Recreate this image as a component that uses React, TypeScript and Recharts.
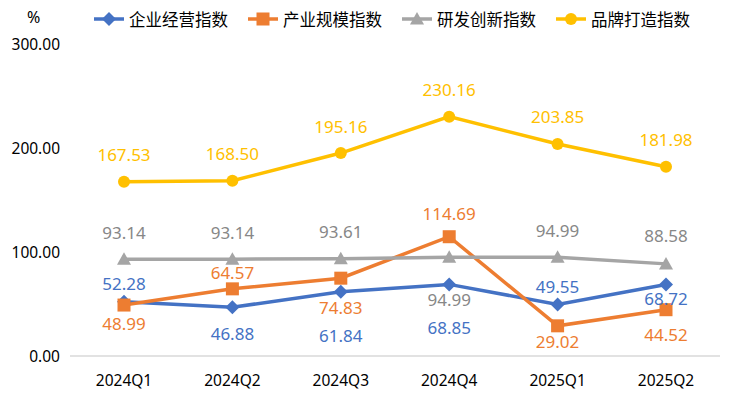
import React from 'react'
import { LineChart, Line, XAxis, YAxis, LabelList } from 'recharts'

const quarters = ['2024Q1', '2024Q2', '2024Q3', '2024Q4', '2025Q1', '2025Q2']
const operation = [52.28, 46.88, 61.84, 68.85, 49.55, 68.72]
const scale = [48.99, 64.57, 74.83, 114.69, 29.02, 44.52]
const innovation = [93.14, 93.14, 93.61, 94.99, 94.99, 88.58]
const brand = [167.53, 168.5, 195.16, 230.16, 203.85, 181.98]
const yTicks = [0, 100, 200, 300]

const seriesNames = ['企业经营指数', '产业规模指数', '研发创新指数', '品牌打造指数']

const data = quarters.map((q, i) => ({
  q,
  operation: operation[i],
  scale: scale[i],
  innovation: innovation[i],
  brand: brand[i],
}))

// label offsets (px from point centre)
const labelDy: Record<string, number[]> = {
  operation: [-18, 26, 44, 43, -18, 14],
  scale: [18, -16, 29, -23, 16, 25],
  innovation: [-27, -27, -27, 42, -27, -28],
  brand: [-27, -27, -27, -27, -27, -27],
}

const FONT = '"Noto Sans", "Noto Sans CJK SC", sans-serif'

type Kind = 'diamond' | 'square' | 'triangle' | 'circle'

function Marker({ cx, cy, kind, color }: { cx: number; cy: number; kind: Kind; color: string }) {
  if (kind === 'diamond') {
    const r = 7
    return <polygon points={`${cx},${cy - r} ${cx + r},${cy} ${cx},${cy + r} ${cx - r},${cy}`} fill={color} />
  }
  if (kind === 'square') {
    const r = 6.5
    return <rect x={cx - r} y={cy - r} width={r * 2} height={r * 2} fill={color} />
  }
  if (kind === 'triangle') {
    const r = 7
    return <polygon points={`${cx},${cy - r} ${cx + r},${cy + r * 0.8} ${cx - r},${cy + r * 0.8}`} fill={color} />
  }
  return <circle cx={cx} cy={cy} r={6} fill={color} />
}

const series: { key: string; name: string; color: string; labelColor: string; kind: Kind }[] = [
  { key: 'operation', name: seriesNames[0], color: '#4472C4', labelColor: '#4472C4', kind: 'diamond' },
  { key: 'scale', name: seriesNames[1], color: '#ED7D31', labelColor: '#ED7D31', kind: 'square' },
  { key: 'innovation', name: seriesNames[2], color: '#A5A5A5', labelColor: '#878787', kind: 'triangle' },
  { key: 'brand', name: seriesNames[3], color: '#FFC000', labelColor: '#FFC000', kind: 'circle' },
]

function makeLabel(key: string, color: string) {
  return (props: any) => {
    const { x, y, value, index } = props
    return (
      <text
        x={x}
        y={y + labelDy[key][index]}
        fill={color}
        fontSize={17}
        fontFamily={FONT}
        textAnchor="middle"
        dominantBaseline="central"
      >
        {Number(value).toFixed(2)}
      </text>
    )
  }
}

function LegendRow() {
  return (
    <div
      style={{
        position: 'absolute',
        left: 93,
        top: 7,
        display: 'flex',
        alignItems: 'center',
        fontFamily: FONT,
        fontSize: 16.5,
        color: '#000',
        whiteSpace: 'nowrap',
      }}
    >
      {series.map((s) => (
        <div key={s.key} style={{ display: 'flex', alignItems: 'center', marginRight: 19 }}>
          <svg width={32} height={16} style={{ marginRight: 4 }}>
            <line x1={1} y1={8} x2={31} y2={8} stroke={s.color} strokeWidth={3.5} />
            <Marker cx={16} cy={8} kind={s.kind} color={s.color} />
          </svg>
          <span>{s.name}</span>
        </div>
      ))}
    </div>
  )
}

export default function App() {
  return (
    <div style={{ position: 'absolute', left: 0, top: 0, width: 736, height: 395, background: '#fff' }}>
      <LineChart width={736} height={395} data={data} margin={{ top: 44, right: 16, bottom: 9, left: 10 }}>
        <XAxis
          dataKey="q"
          padding={{ left: 54, right: 54 }}
          axisLine={{ stroke: '#D9D9D9', strokeWidth: 1.5 }}
          tickLine={false}
          tickMargin={13}
          height={30}
          tick={{ fontSize: 15.5, fill: '#000', fontFamily: FONT }}
        />
        <YAxis
          domain={[0, 300]}
          ticks={yTicks}
          width={60}
          axisLine={false}
          tickLine={false}
          tickSize={0}
          tickMargin={10}
          tickFormatter={(v: number) => v.toFixed(2)}
          tick={{ fontSize: 15.5, fill: '#000', fontFamily: FONT }}
        />
        {series.map((s) => (
          <Line
            key={s.key}
            type="linear"
            dataKey={s.key}
            name={s.name}
            stroke={s.color}
            strokeWidth={3.5}
            isAnimationActive={false}
            dot={(p: any) => <Marker key={`${s.key}-${p.index}`} cx={p.cx} cy={p.cy} kind={s.kind} color={s.color} />}
            activeDot={false}
          >
            <LabelList dataKey={s.key} content={makeLabel(s.key, s.labelColor)} />
          </Line>
        ))}
      </LineChart>
      <div style={{ position: 'absolute', left: 27, top: 6, fontFamily: FONT, fontSize: 16, color: '#000' }}>%</div>
      <LegendRow />
    </div>
  )
}
